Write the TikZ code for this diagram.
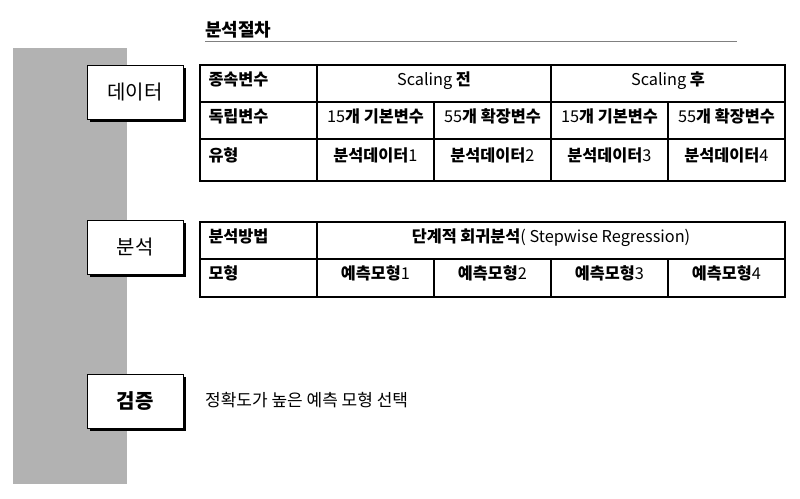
\documentclass[tikz,border=0pt]{standalone}
\usepackage{fontspec}
\setmainfont{Noto Sans CJK KR}
\usetikzlibrary{positioning,shadows}

\begin{document}
\begin{tikzpicture}[x=1pt, y=-1pt,
  stagebox/.style={draw, line width=1pt, fill=white, minimum width=96pt, minimum height=54pt, font=\fontsize{20}{22}\selectfont,
    drop shadow={shadow xshift=2.5pt, shadow yshift=-2.5pt, fill=black, opacity=1}},
  cell/.style={draw, line width=1.1pt, outer sep=0pt, minimum width=117pt, minimum height=37pt, text height=12pt, text depth=8pt, font=\fontsize{16.3}{18}\selectfont},
  rowlabel/.style={cell, text width=100pt, align=left, font=\fontsize{16.3}{18}\selectfont\bfseries},
  span/.style={cell, minimum width=234pt},
  spanall/.style={cell, minimum width=468pt},
  tall/.style={minimum height=42pt, text depth=10pt},
  tallish/.style={minimum height=38pt, text depth=9pt},
]
\useasboundingbox (0,0) rectangle (800,498);

% Gray band
\fill[black!30] (13,48) rectangle (127,484);

% Title
\node[anchor=base west, inner sep=0pt, font=\fontsize{18}{20}\selectfont\bfseries] (title) at (205,36) {분석절차};
\draw[gray, line width=0.8pt] (205,41) -- (737,41);

% Stages
\node[stagebox] (data) at (135,92) {데이터};
\node[stagebox] (anal) at (135,247) {분석};
\node[stagebox, font=\fontsize{20}{22}\selectfont\bfseries] (verif) at (135,401.5) {검증};

% Table: data
\node[rowlabel, anchor=north west] (dep) at (200,65) {종속변수};
\node[span, right=0pt of dep] (pre) {Scaling \textbf{전}};
\node[span, right=0pt of pre] (post) {Scaling \textbf{후}};

\node[rowlabel, below=0pt of dep] (ind) {독립변수};
\node[cell, right=0pt of ind] (v1) {15\textbf{개 기본변수}};
\node[cell, right=0pt of v1] (v2) {55\textbf{개 확장변수}};
\node[cell, right=0pt of v2] (v3) {15\textbf{개 기본변수}};
\node[cell, right=0pt of v3] (v4) {55\textbf{개 확장변수}};

\node[rowlabel, tall, below=0pt of ind] (typ) {유형};
\node[cell, tall, right=0pt of typ] (d1) {\textbf{분석데이터}1};
\node[cell, tall, right=0pt of d1] (d2) {\textbf{분석데이터}2};
\node[cell, tall, right=0pt of d2] (d3) {\textbf{분석데이터}3};
\node[cell, tall, right=0pt of d3] (d4) {\textbf{분석데이터}4};

% Table: analysis
\node[rowlabel, anchor=north west] (meth) at (200,222) {분석방법};
\node[spanall, right=0pt of meth] (step) {\textbf{단계적 회귀분석}( Stepwise Regression)};

\node[rowlabel, tallish, below=0pt of meth] (mod) {모형};
\node[cell, tallish, right=0pt of mod] (m1) {\textbf{예측모형}1};
\node[cell, tallish, right=0pt of m1] (m2) {\textbf{예측모형}2};
\node[cell, tallish, right=0pt of m2] (m3) {\textbf{예측모형}3};
\node[cell, tallish, right=0pt of m3] (m4) {\textbf{예측모형}4};

% Verification
\node[anchor=west, inner sep=0pt, font=\fontsize{17}{19}\selectfont] (pick) at (205,400) {정확도가 높은 예측 모형 선택};

\end{tikzpicture}
\end{document}
